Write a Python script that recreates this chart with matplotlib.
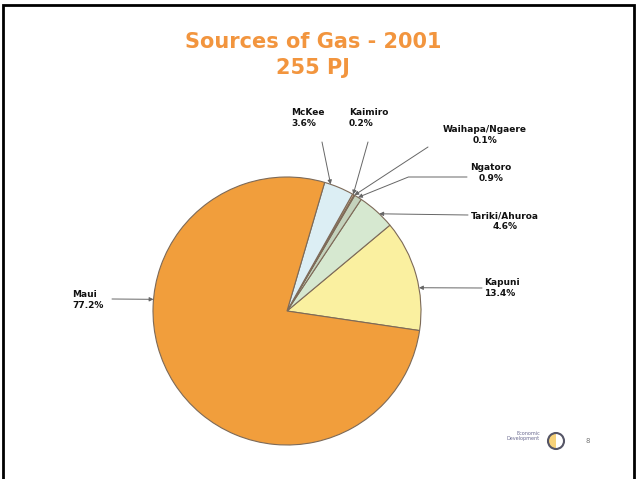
import matplotlib.pyplot as plt
from matplotlib.patches import Circle, Wedge
import numpy as np

# gas fields, counter-clockwise from the Kapuni slice
fields = ['Kapuni', 'Tariki/Ahuroa', 'Ngatoro', 'Waihapa/Ngaere', 'Kaimiro', 'McKee', 'Maui']
shares = [13.4, 4.6, 0.9, 0.1, 0.2, 3.6, 77.2]
colours = ['#FAF0A0', '#D6E8D0', '#C4D2BC', '#9C8070', '#F2C49C', '#DCEEF4', '#F19E3C']

W, H = 637, 479
CX, CY, R = 287, H - 311, 134

fig = plt.figure(figsize=(W / 100, H / 100), dpi=100)
ax = fig.add_axes([0, 0, 1, 1])

ax.pie(shares, colors=colours, startangle=-8.4, counterclock=True,
       center=(CX, CY), radius=R,
       wedgeprops=dict(edgecolor='#7d6a58', linewidth=0.8))

ax.set_xlim(0, W)
ax.set_ylim(0, H)
ax.set_aspect('equal')
ax.axis('off')

# label layout: text pos, alignment, leader start, arrow angle on rim
layout = {
    'McKee':          ((291, 118), 'left',   (322, 142), 71.0),
    'Kaimiro':        ((349, 118), 'left',   (368, 142), 60.4),
    'Waihapa/Ngaere': ((485, 135), 'center', (428, 147), 59.8),
    'Ngatoro':        ((491, 173), 'center', (467, 177), 58.0),
    'Tariki/Ahuroa':  ((505, 221), 'center', (468, 215), 46.5),
    'Kapuni':         ((484, 288), 'left',   (482, 288), 10.0),
    'Maui':           ((72, 300),  'left',   (112, 299), 175.0),
}

for name, v in zip(fields, shares):
    (tx, ty), ha, (sx, sy), ang = layout[name]
    ax.text(tx, H - ty, f'{name}\n{v:.1f}%', ha=ha, va='center',
            fontsize=6.5, fontweight='bold', color='#111111', linespacing=1.25)
    px = CX + R * np.cos(np.radians(ang))
    py = CY + R * np.sin(np.radians(ang))
    conn = 'arc3'
    if name == 'Ngatoro':
        conn = 'angle,angleA=0,angleB=22,rad=0'
    ax.annotate('', xy=(px, py), xytext=(sx, H - sy),
                arrowprops=dict(arrowstyle='-|>', color='#666666', lw=0.7,
                                mutation_scale=6, shrinkA=0, shrinkB=0,
                                connectionstyle=conn))

ax.text(313, H - 42, 'Sources of Gas - 2001', ha='center', va='center',
        fontsize=15, fontweight='bold', color='#F2953E')
ax.text(313, H - 68, '255 PJ', ha='center', va='center',
        fontsize=15, fontweight='bold', color='#F2953E')

# little logo in the corner
ax.text(540, H - 436, 'Economic\nDevelopment', ha='right', va='center',
        fontsize=3.5, color='#6a6a90', linespacing=1.0)
ax.add_patch(Wedge((556, H - 441), 8, 90, 270, facecolor='#F7D27A', edgecolor='none'))
ax.add_patch(Circle((556, H - 441), 8, facecolor='none', edgecolor='#555566', lw=1.5))
ax.text(588, H - 441, '8', ha='center', va='center', fontsize=5, color='#777777')

# slide frame
ax.plot([3, 3, 634, 634], [0, H - 5, H - 5, 0], color='black', lw=2,
        solid_joinstyle='miter', clip_on=False)

fig.savefig('out.png', dpi=100)
